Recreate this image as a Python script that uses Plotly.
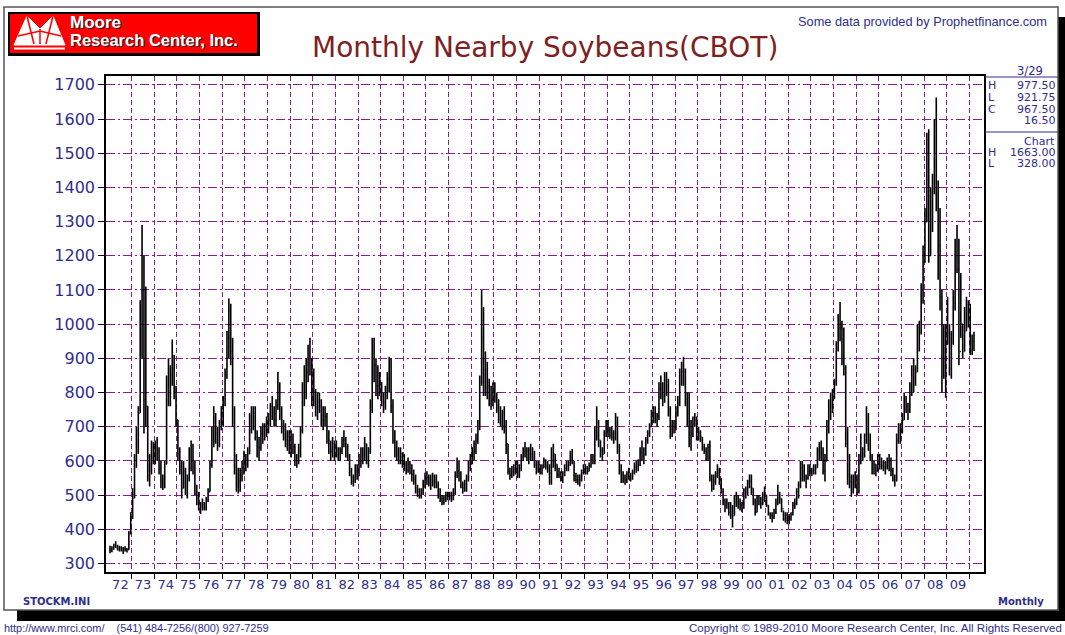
import plotly.graph_objects as go

# ---------------- data (monthly nearby soybeans, cents/bu), Jan 1972 .. Mar 2010 ----------------
highs = [
    352, 350, 358, 365, 355, 352, 350, 348, 350, 345, 395, 450,        # 1972
    520, 620, 700, 760, 1070, 1290, 1200, 1110, 760, 620, 660, 655,    # 1973
    660, 670, 640, 600, 560, 600, 850, 900, 880, 955, 910, 820,        # 1974
    720, 640, 600, 600, 580, 560, 640, 660, 650, 600, 530, 510,        # 1975
    480, 490, 480, 495, 520, 600, 700, 760, 740, 700, 720, 760,        # 1976
    790, 870, 980, 1075, 1060, 960, 760, 620, 580, 580, 600, 630,      # 1977
    620, 640, 740, 760, 760, 760, 690, 670, 700, 710, 710, 730,        # 1978
    740, 770, 790, 760, 780, 860, 830, 760, 720, 710, 690, 690,        # 1979
    690, 680, 650, 620, 650, 700, 830, 880, 900, 940, 960, 900,        # 1980
    870, 810, 800, 800, 780, 760, 760, 740, 690, 660, 670, 660,        # 1981
    660, 640, 640, 670, 690, 670, 650, 620, 580, 560, 590, 590,        # 1982
    620, 640, 640, 670, 650, 640, 780, 960, 960, 900, 880, 860,        # 1983
    830, 800, 820, 860, 905, 900, 780, 690, 660, 640, 640, 625,        # 1984
    620, 600, 610, 600, 590, 575, 560, 530, 520, 520, 545, 565,        # 1985
    570, 560, 560, 565, 560, 560, 540, 520, 500, 500, 510, 510,        # 1986
    510, 510, 520, 570, 610, 600, 570, 540, 545, 560, 600, 620,        # 1987
    640, 660, 680, 720, 850, 1100, 1050, 920, 890, 840, 820, 830,      # 1988
    830, 800, 780, 760, 750, 760, 720, 650, 580, 585, 590, 600,        # 1989
    600, 590, 620, 640, 655, 640, 640, 650, 640, 630, 600, 600,        # 1990
    590, 590, 610, 605, 600, 590, 640, 650, 620, 590, 580, 570,        # 1991
    570, 590, 600, 600, 630, 635, 600, 565, 560, 560, 575, 590,        # 1992
    590, 585, 595, 620, 620, 700, 760, 720, 660, 640, 690, 720,        # 1993
    720, 700, 700, 690, 740, 730, 650, 590, 570, 560, 570, 580,        # 1994
    565, 575, 595, 600, 605, 640, 660, 640, 670, 690, 710, 750,        # 1995
    760, 760, 740, 830, 850, 830, 860, 860, 840, 760, 720, 720,        # 1996
    760, 790, 870, 890, 905, 870, 800, 800, 720, 730, 740, 730,        # 1997
    700, 690, 670, 650, 640, 650, 660, 560, 560, 570, 590, 580,        # 1998
    550, 520, 490, 490, 480, 480, 470, 500, 510, 500, 490, 480,        # 1999
    520, 525, 545, 560, 560, 520, 490, 500, 500, 495, 510, 525,        # 2000
    500, 470, 450, 450, 460, 490, 530, 510, 490, 455, 450, 450,        # 2001
    445, 450, 480, 490, 520, 540, 600, 600, 590, 560, 590, 590,        # 2002
    580, 590, 590, 640, 655, 660, 640, 620, 720, 780, 800, 810,        # 2003
    840, 950, 1030, 1065, 1010, 990, 880, 700, 620, 560, 560, 570,     # 2004
    560, 620, 680, 640, 680, 760, 740, 680, 620, 600, 590, 620,        # 2005
    620, 610, 600, 600, 610, 620, 610, 580, 560, 680, 710, 710,        # 2006
    740, 800, 790, 770, 830, 880, 900, 880, 1000, 1010, 1120, 1230,    # 2007
    1340, 1560, 1570, 1400, 1440, 1600, 1663, 1420, 1340, 1100, 1000, 1000,  # 2008
    1080, 1000, 980, 1100, 1250, 1290, 1250, 1150, 1000, 1050, 1080, 1070,   # 2009
    1060, 970, 977.5,                                                  # 2010
]
lows = [
    330, 333, 340, 345, 338, 335, 335, 328, 335, 332, 340, 385,
    430, 490, 580, 620, 740, 900, 680, 700, 540, 525, 560, 590,
    590, 600, 560, 520, 515, 520, 590, 760, 760, 820, 780, 700,
    600, 560, 490, 520, 500, 490, 540, 570, 560, 500, 470, 455,
    445, 455, 455, 455, 480, 510, 580, 640, 650, 630, 640, 690,
    700, 760, 840, 900, 880, 700, 560, 510, 505, 510, 540, 560,
    570, 580, 620, 680, 690, 660, 610, 600, 630, 650, 660, 670,
    680, 700, 720, 700, 700, 750, 720, 680, 660, 640, 630, 620,
    610, 620, 585, 580, 590, 610, 680, 760, 780, 830, 850, 760,
    760, 730, 720, 740, 700, 690, 700, 650, 620, 600, 610, 600,
    610, 600, 600, 620, 640, 610, 600, 555, 530, 525, 535, 545,
    555, 580, 590, 600, 590, 580, 620, 740, 830, 790, 780, 790,
    760, 740, 750, 780, 800, 740, 650, 610, 600, 590, 590, 580,
    570, 560, 565, 560, 540, 530, 505, 495, 490, 490, 500, 520,
    530, 525, 515, 525, 520, 520, 490, 480, 470, 472, 480, 485,
    485, 480, 485, 500, 550, 540, 520, 505, 510, 510, 540, 570,
    590, 600, 620, 650, 690, 820, 790, 790, 780, 760, 750, 760,
    770, 740, 710, 700, 690, 680, 620, 560, 545, 550, 555, 560,
    550, 550, 570, 600, 610, 600, 590, 600, 600, 580, 560, 565,
    560, 560, 580, 575, 565, 530, 530, 580, 570, 550, 550, 540,
    535, 555, 570, 570, 585, 590, 540, 535, 530, 525, 540, 560,
    560, 560, 570, 580, 590, 590, 660, 640, 610, 600, 620, 670,
    670, 665, 660, 650, 660, 620, 560, 535, 535, 530, 535, 545,
    540, 545, 560, 565, 570, 585, 600, 590, 615, 650, 670, 700,
    710, 710, 700, 720, 780, 760, 770, 790, 730, 665, 670, 680,
    690, 730, 760, 820, 820, 760, 700, 640, 630, 670, 700, 660,
    660, 655, 630, 620, 600, 600, 540, 510, 515, 530, 550, 530,
    505, 470, 450, 460, 440, 430, 405, 440, 465, 460, 455, 450,
    460, 490, 500, 520, 500, 470, 440, 450, 470, 460, 470, 480,
    465, 440, 430, 420, 430, 445, 470, 475, 450, 425, 420, 415,
    415, 425, 440, 460, 470, 490, 520, 540, 540, 520, 545, 555,
    555, 560, 560, 580, 600, 600, 560, 540, 600, 680, 720, 740,
    780, 820, 920, 950, 880, 850, 640, 530, 520, 495, 505, 520,
    500, 505, 590, 600, 610, 650, 630, 600, 560, 560, 555, 570,
    575, 575, 570, 560, 575, 570, 555, 540, 525, 540, 650, 650,
    680, 720, 740, 720, 740, 790, 800, 820, 860, 920, 970, 1060,
    1180, 1300, 1180, 1200, 1270, 1380, 1330, 1130, 1040, 800, 840, 785,
    940, 850, 840, 940, 1040, 1150, 880, 960, 900, 920, 980, 990,
    910, 910, 921.75,
]
closes = [
    340, 345, 352, 348, 340, 345, 342, 340, 342, 340, 390, 440,
    500, 600, 660, 740, 1000, 1100, 780, 760, 560, 590, 610, 630,
    640, 630, 580, 540, 535, 590, 820, 820, 850, 870, 800, 720,
    620, 575, 520, 570, 510, 550, 620, 600, 580, 510, 490, 470,
    470, 470, 462, 485, 510, 590, 660, 700, 680, 650, 700, 740,
    770, 850, 960, 1040, 920, 720, 580, 530, 540, 560, 580, 600,
    590, 620, 720, 700, 740, 680, 640, 640, 680, 690, 690, 710,
    720, 760, 740, 720, 760, 780, 740, 700, 690, 660, 660, 640,
    630, 640, 600, 600, 630, 690, 800, 840, 860, 900, 880, 800,
    800, 760, 770, 760, 720, 720, 730, 670, 650, 630, 650, 620,
    630, 620, 630, 660, 660, 620, 610, 570, 540, 545, 570, 560,
    600, 600, 620, 650, 610, 630, 760, 900, 880, 820, 820, 810,
    790, 770, 800, 840, 880, 760, 660, 640, 620, 610, 610, 590,
    590, 575, 590, 580, 560, 545, 515, 510, 500, 510, 530, 550,
    550, 535, 545, 540, 540, 530, 500, 490, 480, 490, 500, 495,
    495, 490, 505, 560, 570, 560, 530, 520, 530, 550, 580, 610,
    620, 630, 660, 700, 830, 960, 820, 880, 820, 790, 780, 800,
    790, 760, 730, 730, 700, 700, 650, 570, 560, 570, 575, 580,
    560, 575, 610, 620, 630, 610, 620, 620, 615, 590, 580, 575,
    575, 580, 600, 590, 580, 540, 600, 620, 590, 560, 560, 550,
    560, 580, 585, 590, 610, 600, 555, 545, 545, 545, 565, 575,
    580, 570, 585, 610, 600, 690, 700, 660, 630, 620, 680, 710,
    690, 680, 680, 670, 710, 640, 570, 560, 545, 545, 560, 555,
    550, 565, 580, 585, 590, 625, 615, 620, 660, 680, 700, 740,
    740, 720, 730, 810, 800, 790, 800, 820, 750, 690, 700, 700,
    740, 770, 850, 860, 860, 780, 740, 660, 680, 710, 720, 670,
    680, 670, 640, 630, 620, 640, 550, 520, 540, 555, 575, 540,
    510, 480, 470, 475, 450, 450, 440, 480, 490, 480, 470, 465,
    515, 510, 540, 540, 520, 480, 450, 490, 480, 475, 500, 500,
    470, 445, 440, 435, 450, 480, 500, 490, 460, 430, 440, 425,
    430, 445, 470, 475, 510, 530, 580, 570, 550, 550, 570, 570,
    570, 575, 580, 630, 640, 620, 570, 600, 700, 760, 760, 790,
    830, 930, 990, 990, 900, 870, 660, 560, 540, 520, 540, 550,
    510, 600, 620, 620, 660, 700, 650, 610, 575, 590, 570, 610,
    590, 585, 585, 585, 595, 600, 570, 550, 545, 660, 690, 690,
    720, 780, 760, 750, 800, 850, 840, 860, 990, 980, 1100, 1200,
    1300, 1500, 1200, 1300, 1400, 1580, 1400, 1230, 1080, 900, 880, 980,
    980, 870, 950, 1060, 1200, 1160, 920, 1000, 920, 980, 1040, 1040,
    920, 950, 967.5,
]
first_year = 1972
year_labels = ["72", "73", "74", "75", "76", "77", "78", "79", "80", "81", "82", "83",
               "84", "85", "86", "87", "88", "89", "90", "91", "92", "93", "94", "95",
               "96", "97", "98", "99", "00", "01", "02", "03", "04", "05", "06", "07",
               "08", "09"]
y_ticks = [300, 400, 500, 600, 700, 800, 900, 1000, 1100, 1200, 1300, 1400, 1500, 1600, 1700]
info_rows = [("H", "977.50"), ("L", "921.75"), ("C", "967.50"), ("", "16.50")]
chart_rows = [("H", "1663.00"), ("L", "328.00")]

# ---------------- geometry ----------------
W, H = 1065, 635
L, R, T, B = 106, 984, 76, 572


def px(x):
    return (x - L) / (R - L)


def py(y):
    return (B - y) / (B - T)


xs = [first_year + (i + 0.5) / 12 for i in range(len(closes))]
opens = [closes[0]] + closes[:-1]
mid_years = [first_year + k + 0.5 for k in range(len(year_labels))]
year_starts = [first_year + k + 1 for k in range(len(year_labels))]

NAVY = "#2E2E8C"
PURPLE = "#8E1B8E"

fig = go.Figure(go.Ohlc(
    x=xs, open=opens, high=highs, low=lows, close=closes,
    increasing=dict(line=dict(color="black", width=1.6)),
    decreasing=dict(line=dict(color="black", width=1.6)),
    tickwidth=0.45, hoverinfo="skip",
))

shapes = []
# shadow + frame
shapes.append(dict(type="rect", xref="paper", yref="paper", x0=px(17), x1=px(1066), y0=py(17), y1=py(621),
                   fillcolor="black", line=dict(width=0), layer="below"))
shapes.append(dict(type="rect", xref="paper", yref="paper", x0=px(4), x1=px(1058), y0=py(7), y1=py(610),
                   fillcolor="white", line=dict(color="#555555", width=1.5), layer="below"))
# logo box
shapes.append(dict(type="rect", xref="paper", yref="paper", x0=px(8), x1=px(260), y0=py(12), y1=py(56),
                   fillcolor="black", line=dict(width=0), layer="above"))
shapes.append(dict(type="rect", xref="paper", yref="paper", x0=px(10), x1=px(257), y0=py(14), y1=py(53),
                   fillcolor="#FF0000", line=dict(width=0), layer="above"))


def path(points, close=True):
    s = "M " + " L ".join(f"{px(a):.5f},{py(b):.5f}" for a, b in points)
    return s + (" Z" if close else "")


shapes.append(dict(type="path", xref="paper", yref="paper",
                   path=path([(14, 45), (27, 16), (40, 29), (53, 16), (65, 45)]),
                   fillcolor="white", line=dict(color="white", width=1), layer="above"))
for seg in [[(27, 16), (34, 44)], [(53, 16), (46, 44)], [(18, 36), (40, 31), (61, 36)], [(40, 29), (40, 44)]]:
    shapes.append(dict(type="path", xref="paper", yref="paper", path=path(seg, close=False),
                       line=dict(color="#FF0000", width=1.5), layer="above"))
shapes.append(dict(type="rect", xref="paper", yref="paper", x0=px(14), x1=px(65), y0=py(47.5), y1=py(49.5),
                   fillcolor="white", line=dict(width=0), layer="above"))
# info panel lines
for yy in (77, 132):
    shapes.append(dict(type="line", xref="paper", yref="paper", x0=px(985), x1=px(1058), y0=py(yy), y1=py(yy),
                       line=dict(color=NAVY, width=1.2), layer="above"))

ann = []


def text(t, x, y, size, color, family="DejaVu Sans", xanchor="left", bold=False, shadow=None):
    if bold:
        t = "<b>" + t + "</b>"
    font = dict(family=family, size=size, color=color)
    if shadow:
        font["shadow"] = shadow
    ann.append(dict(text=t, x=px(x), y=py(y), xref="paper", yref="paper", showarrow=False,
                    xanchor=xanchor, yanchor="middle", borderpad=0, font=font))


text("Monthly Nearby Soybeans(CBOT)", 545, 47, 28, "#7F1F1F", xanchor="center")
text("Some data provided by Prophetfinance.com", 797, 22, 12.8, NAVY, family="Liberation Sans")
text("Moore", 69, 23, 17, "white", family="Liberation Sans", bold=True, shadow="1px 1px 0px #202020")
text("Research Center, Inc.", 69, 40, 16.5, "white", family="Liberation Sans", bold=True,
     shadow="1px 1px 0px #202020")
text("3/29", 1044, 71, 11.5, NAVY, xanchor="right")
for k, (lab, val) in enumerate(info_rows):
    yy = 86 + k * 11.5
    if lab:
        text(lab, 987, yy, 11, NAVY)
    text(val, 1057, yy, 11, NAVY, xanchor="right")
text("Chart", 1056, 141, 11, NAVY, xanchor="right")
for k, (lab, val) in enumerate(chart_rows):
    yy = 152.5 + k * 11.5
    text(lab, 987, yy, 11, NAVY)
    text(val, 1057, yy, 11, NAVY, xanchor="right")
text("STOCKM.INI", 22, 601, 10, NAVY, bold=True)
text("Monthly", 1045, 601, 10, NAVY, xanchor="right", bold=True)
text("http://www.mrci.com/&nbsp;&nbsp;&nbsp;&nbsp;(541) 484-7256/(800) 927-7259", 3, 628, 10.9, NAVY,
     family="Liberation Sans")
text("Copyright © 1989-2010 Moore Research Center, Inc. All Rights Reserved", 1063, 628, 11.5, NAVY,
     family="Liberation Sans", xanchor="right")

fig.update_layout(
    width=W, height=H,
    margin=dict(l=L, r=W - R, t=T, b=H - B, pad=0),
    paper_bgcolor="white", plot_bgcolor="rgba(0,0,0,0)",
    showlegend=False, shapes=shapes, annotations=ann,
    xaxis=dict(
        range=[1971.865, 2010.65], rangeslider=dict(visible=False),
        tickmode="array", tickvals=mid_years, ticktext=year_labels, ticks="",
        showgrid=False, zeroline=False, showline=True, linecolor="black", linewidth=1.5, mirror=True,
        tickfont=dict(family="DejaVu Sans", size=13, color=NAVY),
        minor=dict(tickmode="array", tickvals=year_starts, ticks="outside", ticklen=5, tickcolor="black",
                   showgrid=True, gridcolor=PURPLE, gridwidth=1, griddash="5px,3px"),
    ),
    yaxis=dict(
        range=[275, 1726], tickmode="array", tickvals=y_ticks, ticks="outside", ticklen=6, tickcolor="black",
        showgrid=True, gridcolor=PURPLE, gridwidth=1, griddash="9px,3px,2px,3px",
        zeroline=False, showline=True, linecolor="black", linewidth=1.5, mirror=True,
        tickfont=dict(family="DejaVu Sans", size=16, color=NAVY),
    ),
)

fig.write_html("out.html", config={"displayModeBar": False},
               post_script="document.body.style.margin='0px';document.body.style.overflow='hidden';")
